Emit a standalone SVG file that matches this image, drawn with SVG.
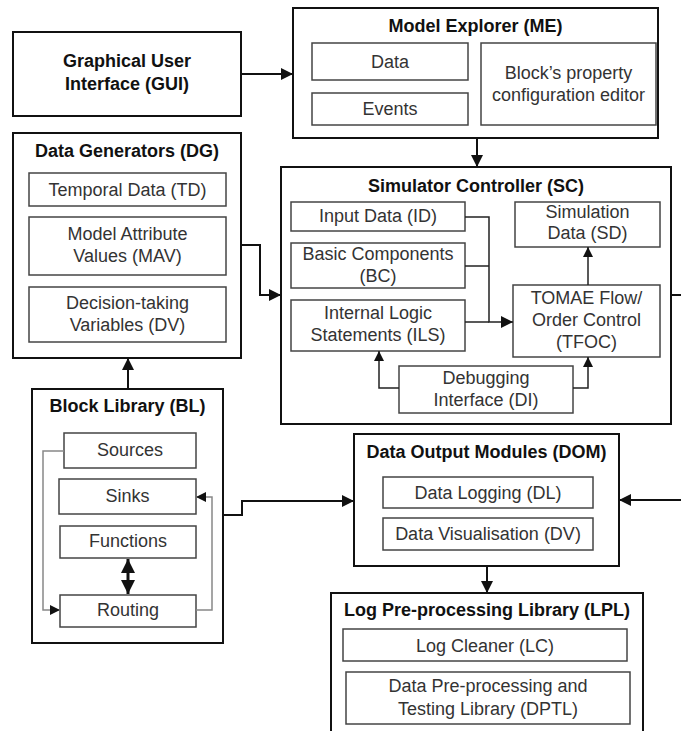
<svg xmlns="http://www.w3.org/2000/svg" width="681" height="731" viewBox="0 0 681 731">
<defs>
<style>
.outer{fill:#fff;stroke:#111;stroke-width:2}
.inner{fill:#fff;stroke:#444;stroke-width:1.5}
.t{font-family:"Liberation Sans",Arial,sans-serif;font-size:18px;fill:#333;text-anchor:middle}
.b{font-family:"Liberation Sans",Arial,sans-serif;font-size:18px;font-weight:bold;fill:#111;text-anchor:middle}
.c{fill:none;stroke:#111;stroke-width:2}
.ci{fill:none;stroke:#222;stroke-width:1.5}
.cg{fill:none;stroke:#888;stroke-width:1.5}
</style>
<marker id="a" markerUnits="userSpaceOnUse" markerWidth="12" markerHeight="12" refX="12" refY="6" orient="auto"><path d="M0,0 L12,6 L0,12 z" fill="#111"/></marker>
<marker id="as" markerUnits="userSpaceOnUse" markerWidth="10" markerHeight="10" refX="10" refY="5" orient="auto"><path d="M0,0 L10,5 L0,10 z" fill="#111"/></marker>
<marker id="dbl" markerUnits="userSpaceOnUse" markerWidth="12" markerHeight="14" refX="14" refY="7" orient="auto-start-reverse" overflow="visible"><path d="M0,0 L14,7 L0,14 z" fill="#111"/></marker>
</defs>

<g id="GUI">
<rect class="outer" x="13" y="32" width="228" height="84"/>
<text class="b" x="127" y="67">Graphical User</text>
<text class="b" x="127" y="90">Interface (GUI)</text>
</g>

<g id="ME">
<rect class="outer" x="293" y="8" width="365" height="130"/>
<text class="b" x="475.5" y="32">Model Explorer (ME)</text>
<g id="ME-Data"><rect class="inner" x="312" y="43" width="156" height="37"/><text class="t" x="390" y="68">Data</text></g>
<g id="ME-Events"><rect class="inner" x="312" y="93" width="156" height="32"/><text class="t" x="390" y="115">Events</text></g>
<g id="ME-Block"><rect class="inner" x="481" y="43" width="175" height="82"/><text class="t" x="568.5" y="79">Block’s property</text><text class="t" x="568.5" y="101">configuration editor</text></g>
</g>

<g id="DG">
<rect class="outer" x="13" y="133" width="228" height="225"/>
<text class="b" x="127" y="157">Data Generators (DG)</text>
<g id="TD"><rect class="inner" x="29" y="173" width="197" height="33"/><text class="t" x="127.5" y="196">Temporal Data (TD)</text></g>
<g id="MAV"><rect class="inner" x="29" y="217" width="197" height="58"/><text class="t" x="127.5" y="240">Model Attribute</text><text class="t" x="127.5" y="262">Values (MAV)</text></g>
<g id="DGDV"><rect class="inner" x="29" y="287" width="197" height="55"/><text class="t" x="127.5" y="309">Decision-taking</text><text class="t" x="127.5" y="331">Variables (DV)</text></g>
</g>

<g id="SC">
<rect class="outer" x="281" y="167" width="390" height="257"/>
<text class="b" x="476" y="192">Simulator Controller (SC)</text>
<g id="ID"><rect class="inner" x="291" y="202" width="174" height="29"/><text class="t" x="378" y="222">Input Data (ID)</text></g>
<g id="BC"><rect class="inner" x="291" y="243" width="174" height="45"/><text class="t" x="378" y="260">Basic Components</text><text class="t" x="378" y="282">(BC)</text></g>
<g id="ILS"><rect class="inner" x="291" y="300" width="174" height="51"/><text class="t" x="378" y="319">Internal Logic</text><text class="t" x="378" y="341">Statements (ILS)</text></g>
<g id="SD"><rect class="inner" x="515" y="202" width="145" height="45"/><text class="t" x="587.5" y="218">Simulation</text><text class="t" x="587.5" y="239">Data (SD)</text></g>
<g id="TFOC"><rect class="inner" x="513" y="285" width="147" height="72"/><text class="t" x="586.5" y="304">TOMAE Flow/</text><text class="t" x="586.5" y="326">Order Control</text><text class="t" x="586.5" y="348">(TFOC)</text></g>
<g id="DI"><rect class="inner" x="399" y="366" width="174" height="47"/><text class="t" x="486" y="384">Debugging</text><text class="t" x="486" y="406">Interface (DI)</text></g>
</g>

<g id="BL">
<rect class="outer" x="32" y="389" width="191" height="254"/>
<text class="b" x="127.5" y="412">Block Library (BL)</text>
<g id="Sources"><rect class="inner" x="64" y="433" width="132" height="35"/><text class="t" x="130" y="456">Sources</text></g>
<g id="Sinks"><rect class="inner" x="59" y="479" width="137" height="35"/><text class="t" x="127.5" y="502">Sinks</text></g>
<g id="Functions"><rect class="inner" x="60" y="526" width="136" height="32"/><text class="t" x="128" y="547">Functions</text></g>
<g id="Routing"><rect class="inner" x="60" y="595" width="136" height="32"/><text class="t" x="128" y="616">Routing</text></g>
</g>

<g id="DOM">
<rect class="outer" x="354" y="434" width="265" height="132"/>
<text class="b" x="486.5" y="458">Data Output Modules (DOM)</text>
<g id="DL"><rect class="inner" x="383" y="477" width="210" height="31"/><text class="t" x="488" y="499">Data Logging (DL)</text></g>
<g id="DOMDV"><rect class="inner" x="383" y="518" width="210" height="32"/><text class="t" x="488" y="540">Data Visualisation (DV)</text></g>
</g>

<g id="LPL">
<rect class="outer" x="331" y="593" width="312" height="145"/>
<text class="b" x="487" y="616">Log Pre-processing Library (LPL)</text>
<g id="LC"><rect class="inner" x="343" y="629" width="284" height="32"/><text class="t" x="485" y="652">Log Cleaner (LC)</text></g>
<g id="DPTL"><rect class="inner" x="346" y="672" width="284" height="52"/><text class="t" x="488" y="692">Data Pre-processing and</text><text class="t" x="488" y="715">Testing Library (DPTL)</text></g>
</g>

<g id="connectors">
<path class="c" d="M241,74 H293" marker-end="url(#a)"/>
<path class="c" d="M477,138 V167" marker-end="url(#a)"/>
<path class="c" d="M241,245 H260 V295 H281" marker-end="url(#a)"/>
<path class="c" d="M128,389 V358" marker-end="url(#a)"/>
<path class="c" d="M223,515 H242 V501 H354" marker-end="url(#a)"/>
<path class="c" d="M671,295 H681"/>
<path class="c" d="M681,500 H619" marker-end="url(#a)"/>
<path class="c" d="M487,566 V593" marker-end="url(#a)"/>
<path class="ci" d="M465,217 H489 V322 H513" marker-end="url(#a)"/>
<path class="ci" d="M465,266 H489"/>
<path class="ci" d="M465,322 H489"/>
<path class="ci" d="M588,285 V247" marker-end="url(#as)"/>
<path class="ci" d="M399,388 H379 V351" marker-end="url(#as)"/>
<path class="ci" d="M573,388 H588 V357" marker-end="url(#as)"/>
<path class="cg" d="M64,451 H43 V610 H60" marker-end="url(#as)"/>
<path class="cg" d="M196,610 H212 V497 H196" marker-end="url(#as)"/>
<path d="M128,559 V594" fill="none" stroke="#111" stroke-width="3" marker-start="url(#dbl)" marker-end="url(#dbl)"/>
</g>
</svg>
